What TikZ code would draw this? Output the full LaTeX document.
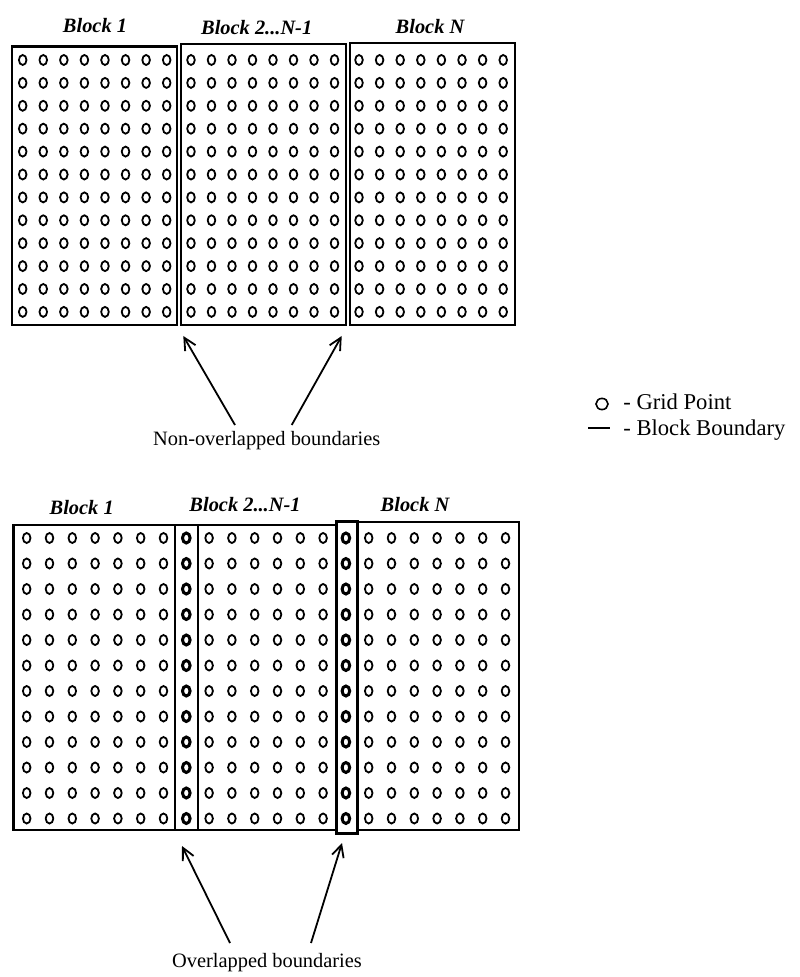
\documentclass[tikz,border=0pt]{standalone}
\usepackage{fontspec}
\setmainfont{Liberation Serif}
\usetikzlibrary{arrows.meta}
\begin{document}
\begin{tikzpicture}[x=0.5pt,y=-0.5pt,
 gp/.style={line width=0.9pt},
 gpb/.style={line width=1.5pt},
 blk/.style={line width=1.2pt},
 ttl/.style={font=\fontsize{10.2}{12}\selectfont\bfseries\itshape, inner sep=0pt},
 captxt/.style={font=\fontsize{10.2}{12}\selectfont, inner sep=0pt},
 legtxt/.style={font=\fontsize{11.3}{13}\selectfont, inner sep=0pt},
 arr/.style={line width=0.9pt, -{Straight Barb[length=6pt,width=6pt]}}
]
\useasboundingbox (0,0) rectangle (799,977);
% ---------- top: non-overlapped ----------
\node[ttl] (t1) at (95,26) {Block 1};
\node[ttl] (t2) at (256.7,28) {Block 2...N-1};
\node[ttl] (t3) at (430,27) {Block N};
\draw[blk] (12,46.7) rectangle (176.7,325);
\draw[blk] (181,44.3) rectangle (345.7,325);
\draw[blk] (350,43.3) rectangle (515,325);
\foreach \i in {0,...,11}{
  \foreach \j in {0,...,7}{
    \draw[gp] ({22.7+20.57*\j},{60+22.9*\i}) ellipse [x radius=1.9pt, y radius=2.5pt];
    \draw[gp] ({191+20.5*\j},{60+22.9*\i}) ellipse [x radius=1.9pt, y radius=2.5pt];
    \draw[gp] ({359+20.6*\j},{60+22.9*\i}) ellipse [x radius=1.9pt, y radius=2.5pt];
  }
}
\node[captxt] (c1) at (266.7,441) {Non-overlapped boundaries};
\coordinate (s1) at (235,425);
\coordinate (s2) at (291.7,425);
\coordinate (e1) at (183.3,336);
\coordinate (e2) at (341.7,336);
\draw[arr] (s1) -- (e1);
\draw[arr] (s2) -- (e2);
% ---------- legend ----------
\draw[line width=0.8pt] (602,404) ellipse [x radius=3pt, y radius=2.8pt];
\node[legtxt, anchor=west] (lg1) at (623,402) {- Grid Point};
\draw[line width=1pt] (588,428) -- (610,428);
\node[legtxt, anchor=west] (lg2) at (623,430) {- Block Boundary};
% ---------- bottom: overlapped ----------
\node[ttl] (b1) at (81.7,508) {Block 1};
\node[ttl] (b2) at (245,505) {Block 2...N-1};
\node[ttl] (b3) at (415,505) {Block N};
\draw[blk] (13.3,525) rectangle (336.7,830);
\draw[line width=0.9pt] (175,525) -- (175,830);
\draw[line width=0.9pt] (198.3,525) -- (198.3,830);
\draw[line width=1.5pt] (336.7,521.7) rectangle (357.3,833);
\draw[blk] (357.3,521.7) rectangle (519,830);
\foreach \i in {0,...,11}{
  \foreach \k in {0,...,21}{
    \ifnum\k=7
      \draw[gpb] ({26.7+22.8*\k},{538+25.5*\i}) ellipse [x radius=1.9pt, y radius=2.5pt];
    \else\ifnum\k=14
      \draw[gpb] ({26.7+22.8*\k},{538+25.5*\i}) ellipse [x radius=1.9pt, y radius=2.5pt];
    \else
      \draw[gp] ({26.7+22.8*\k},{538+25.5*\i}) ellipse [x radius=1.9pt, y radius=2.5pt];
    \fi\fi
  }
}
\node[captxt] (c2) at (267,963) {Overlapped boundaries};
\coordinate (s3) at (230,943);
\coordinate (s4) at (311,943);
\coordinate (e3) at (182,846);
\coordinate (e4) at (342,843);
\draw[arr] (s3) -- (e3);
\draw[arr] (s4) -- (e4);
\end{tikzpicture}
\end{document}
